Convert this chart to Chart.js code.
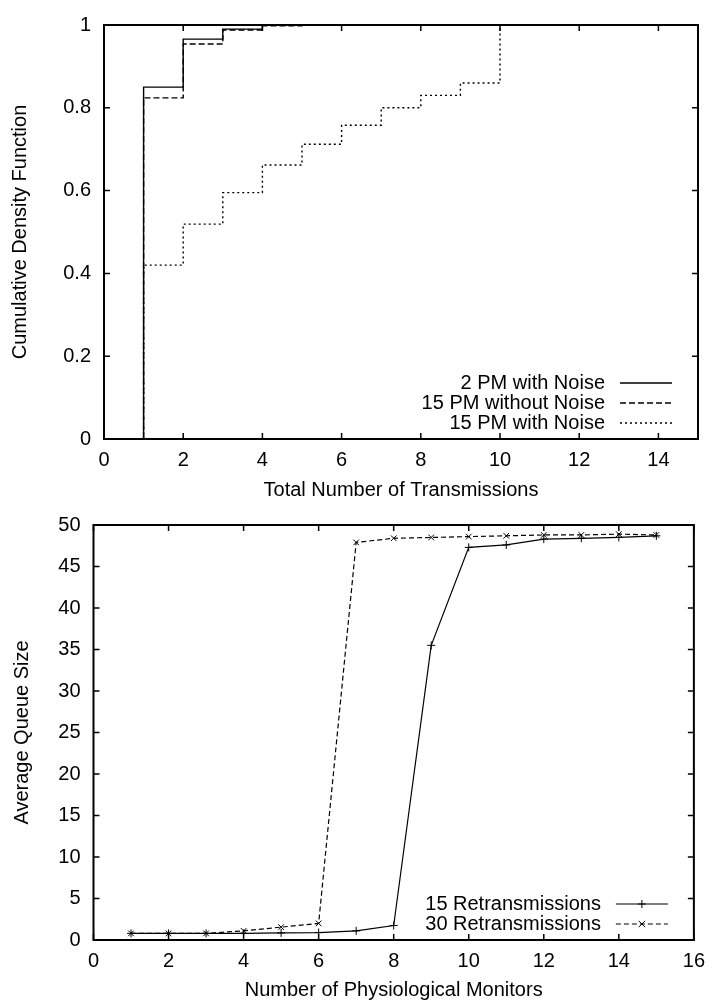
<!DOCTYPE html>
<html>
<head>
<meta charset="utf-8">
<script src="https://cdn.jsdelivr.net/npm/chart.js@4.4.0/dist/chart.umd.min.js"></script>
<style>
  html, body { margin: 0; padding: 0; background: #fff; }
  #top { position: absolute; left: 0; top: 0; }
  #bottom { position: absolute; left: 0; top: 500px; }
</style>
</head>
<body>
<canvas id="top" width="714" height="500"></canvas>
<canvas id="bottom" width="714" height="503"></canvas>
<script>
// --- top chart: CDF of the number of transmissions ---
const pm2NoiseX = [1, 1, 2, 3, 4];
const pm2NoiseY = [0, 0.85, 0.966, 0.99, 1];
const pm15CleanX = [1, 1, 2, 3, 4, 5];
const pm15CleanY = [0, 0.824, 0.954, 0.988, 0.998, 1];
const pm15NoiseX = [1, 1, 2, 3, 4, 5, 6, 7, 8, 9, 10];
const pm15NoiseY = [0, 0.42, 0.519, 0.595, 0.662, 0.712, 0.758, 0.80, 0.83, 0.86, 1];

// --- bottom chart: average queue size vs number of monitors ---
const monitors = [1, 2, 3, 4, 5, 6, 7, 8, 9, 10, 11, 12, 13, 14, 15];
const retrans15 = [0.8, 0.8, 0.8, 0.8, 0.85, 0.9, 1.1, 1.75, 35.5, 47.3, 47.6, 48.3, 48.4, 48.5, 48.7];
const retrans30 = [0.8, 0.8, 0.8, 1.1, 1.55, 2.0, 47.9, 48.4, 48.5, 48.6, 48.7, 48.8, 48.8, 48.9, 48.8];

const FONT = 'Liberation Sans, Arial, Helvetica, sans-serif';
const SIZE = 20;

const pairs = (xs, ys) => xs.map((x, i) => ({ x: x, y: ys[i] }));

// gnuplot-like frame: box, inward mirrored ticks, key in the lower right
const gnuplotFrame = {
  id: 'gnuplotFrame',
  afterDraw(chart) {
    const { ctx, chartArea: a, scales } = chart;
    ctx.save();
    ctx.strokeStyle = '#000';
    ctx.lineWidth = 1.5;
    ctx.beginPath();
    scales.x.ticks.forEach(t => {
      const px = scales.x.getPixelForValue(t.value);
      ctx.moveTo(px, a.bottom); ctx.lineTo(px, a.bottom - 6);
      ctx.moveTo(px, a.top); ctx.lineTo(px, a.top + 6);
    });
    scales.y.ticks.forEach(t => {
      const py = scales.y.getPixelForValue(t.value);
      ctx.moveTo(a.left, py); ctx.lineTo(a.left + 6, py);
      ctx.moveTo(a.right, py); ctx.lineTo(a.right - 6, py);
    });
    ctx.stroke();
    ctx.lineWidth = 2;
    ctx.strokeRect(a.left, a.top, a.right - a.left, a.bottom - a.top);

    // key
    const ds = chart.data.datasets;
    const n = ds.length;
    ctx.font = SIZE + 'px ' + FONT;
    ctx.fillStyle = '#000';
    ctx.textAlign = 'right';
    ctx.textBaseline = 'middle';
    ds.forEach((d, i) => {
      const y = a.bottom - 16 - (n - 1 - i) * 20;
      ctx.fillText(d.label, a.right - 93, y);
      const x0 = a.right - 78, x1 = a.right - 26;
      ctx.save();
      ctx.lineWidth = d.borderWidth;
      ctx.setLineDash(d.borderDash || []);
      ctx.beginPath();
      ctx.moveTo(x0, y); ctx.lineTo(x1, y);
      ctx.stroke();
      ctx.restore();
      if (d.pointRadius > 0) {
        const cx = (x0 + x1) / 2, r = d.pointRadius;
        ctx.beginPath();
        ctx.lineWidth = 1;
        if (d.pointStyle === 'cross') {
          ctx.moveTo(cx - r, y); ctx.lineTo(cx + r, y);
          ctx.moveTo(cx, y - r); ctx.lineTo(cx, y + r);
        } else {
          ctx.moveTo(cx - r * 0.8, y - r * 0.8); ctx.lineTo(cx + r * 0.8, y + r * 0.8);
          ctx.moveTo(cx - r * 0.8, y + r * 0.8); ctx.lineTo(cx + r * 0.8, y - r * 0.8);
        }
        ctx.stroke();
      }
    });
    ctx.restore();
  }
};

const axisX = (title, max, height, titlePadBottom) => ({
  type: 'linear',
  min: 0,
  max: max,
  grid: { display: false, drawTicks: false },
  border: { display: false },
  ticks: { stepSize: 2, includeBounds: false, padding: 9, color: '#000', font: { family: FONT, size: SIZE } },
  title: { display: true, text: title, color: '#000', font: { family: FONT, size: SIZE, lineHeight: 1 }, padding: { top: 0, bottom: titlePadBottom } },
  afterFit: s => { s.height = height; }
});

const axisY = (title, max, step, width, titlePadTop) => ({
  type: 'linear',
  min: 0,
  max: max,
  grid: { display: false, drawTicks: false },
  border: { display: false },
  ticks: {
    stepSize: step, padding: 13, color: '#000', font: { family: FONT, size: SIZE },
    callback: v => String(+v.toFixed(2))
  },
  title: { display: true, text: title, color: '#000', font: { family: FONT, size: SIZE, lineHeight: 1 }, padding: { top: titlePadTop, bottom: 0 } },
  afterFit: s => { s.width = width; }
});

new Chart(document.getElementById('top').getContext('2d'), {
  type: 'line',
  data: {
    datasets: [
      { label: '2 PM with Noise', data: pairs(pm2NoiseX, pm2NoiseY), borderColor: '#000', borderWidth: 1.4, stepped: 'before', pointRadius: 0, fill: false },
      { label: '15 PM without Noise', data: pairs(pm15CleanX, pm15CleanY), borderColor: '#000', borderWidth: 1.4, borderDash: [6, 3], stepped: 'before', pointRadius: 0, fill: false },
      { label: '15 PM with Noise', data: pairs(pm15NoiseX, pm15NoiseY), borderColor: '#000', borderWidth: 1.4, borderDash: [2, 3], stepped: 'before', pointRadius: 0, fill: false }
    ]
  },
  options: {
    responsive: false,
    animation: false,
    layout: { padding: { top: 14, right: 16, left: 0, bottom: 0 } },
    plugins: { legend: { display: false }, tooltip: { enabled: false } },
    scales: {
      x: axisX('Total Number of Transmissions', 15, 61, 0),
      y: axisY('Cumulative Density Function', 1, 0.2, 104, 10)
    }
  },
  plugins: [gnuplotFrame]
});

new Chart(document.getElementById('bottom').getContext('2d'), {
  type: 'line',
  data: {
    datasets: [
      { label: '15 Retransmissions', data: pairs(monitors, retrans15), borderColor: '#000', borderWidth: 1.2, pointStyle: 'cross', pointRadius: 4, pointBorderWidth: 1, pointBorderColor: '#000', fill: false, tension: 0 },
      { label: '30 Retransmissions', data: pairs(monitors, retrans30), borderColor: '#000', borderWidth: 1.2, borderDash: [5, 3], pointStyle: 'crossRot', pointRadius: 4, pointBorderWidth: 1, pointBorderColor: '#000', fill: false, tension: 0 }
    ]
  },
  options: {
    responsive: false,
    animation: false,
    layout: { padding: { top: 12, right: 17, left: 0, bottom: 0 } },
    plugins: { legend: { display: false }, tooltip: { enabled: false } },
    scales: {
      x: axisX('Number of Physiological Monitors', 16, 63, 3),
      y: axisY('Average Queue Size', 50, 5, 93.5, 12)
    }
  },
  plugins: [gnuplotFrame]
});
</script>
</body>
</html>
